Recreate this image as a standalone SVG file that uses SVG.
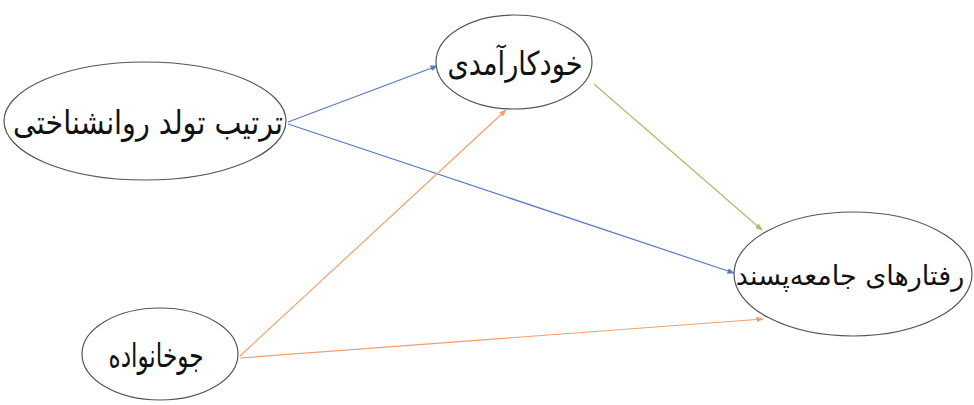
<svg xmlns="http://www.w3.org/2000/svg" width="974" height="405" viewBox="0 0 974 405">
<style>
.node ellipse{fill:#fff;stroke:#555;stroke-width:1.2}
.node text{font-family:"DejaVu Sans","Noto Sans",sans-serif;font-size:33px;fill:#111;text-anchor:middle;direction:rtl}
.e{fill:none;stroke-width:1.2}
</style>
<defs>
<marker id="ab" viewBox="0 0 10 10" refX="9" refY="5" markerWidth="6" markerHeight="6" orient="auto"><path d="M0,1L10,5L0,9z" fill="#5b78c2"/></marker>
<marker id="ag" viewBox="0 0 10 10" refX="9" refY="5" markerWidth="6" markerHeight="6" orient="auto"><path d="M0,1L10,5L0,9z" fill="#a8bd6e"/></marker>
<marker id="ao" viewBox="0 0 10 10" refX="9" refY="5" markerWidth="6" markerHeight="6" orient="auto"><path d="M0,1L10,5L0,9z" fill="#f0a070"/></marker>
</defs>
<rect width="974" height="405" fill="#fff"/>
<g id="connectors">
<line class="e" x1="288" y1="122" x2="437" y2="66" stroke="#5b78c2" marker-end="url(#ab)"/>
<line class="e" x1="288" y1="124" x2="734" y2="273" stroke="#5b78c2" marker-end="url(#ab)"/>
<line class="e" x1="594" y1="84" x2="762" y2="230" stroke="#a8bd6e" marker-end="url(#ag)"/>
<line class="e" x1="240" y1="356" x2="506" y2="110" stroke="#f0a070" marker-end="url(#ao)"/>
<line class="e" x1="240" y1="358" x2="763" y2="319" stroke="#f0a070" marker-end="url(#ao)"/>
</g>
<g id="n1" class="node"><ellipse cx="145" cy="121" rx="141" ry="59"/><text x="148" y="134" textLength="270" lengthAdjust="spacingAndGlyphs">ترتیب تولد روانشناختی</text></g>
<g id="n2" class="node"><ellipse cx="514" cy="62" rx="78" ry="47"/><text x="515" y="75" textLength="135" lengthAdjust="spacingAndGlyphs">خودکارآمدی</text></g>
<g id="n3" class="node"><ellipse cx="853" cy="274" rx="119" ry="62"/><text x="850" y="285" style="font-size:27px">رفتارهای جامعه‌پسند</text></g>
<g id="n4" class="node"><ellipse cx="160" cy="354" rx="78" ry="46"/><text x="156" y="367" textLength="95" lengthAdjust="spacingAndGlyphs">جوخانواده</text></g>
</svg>
